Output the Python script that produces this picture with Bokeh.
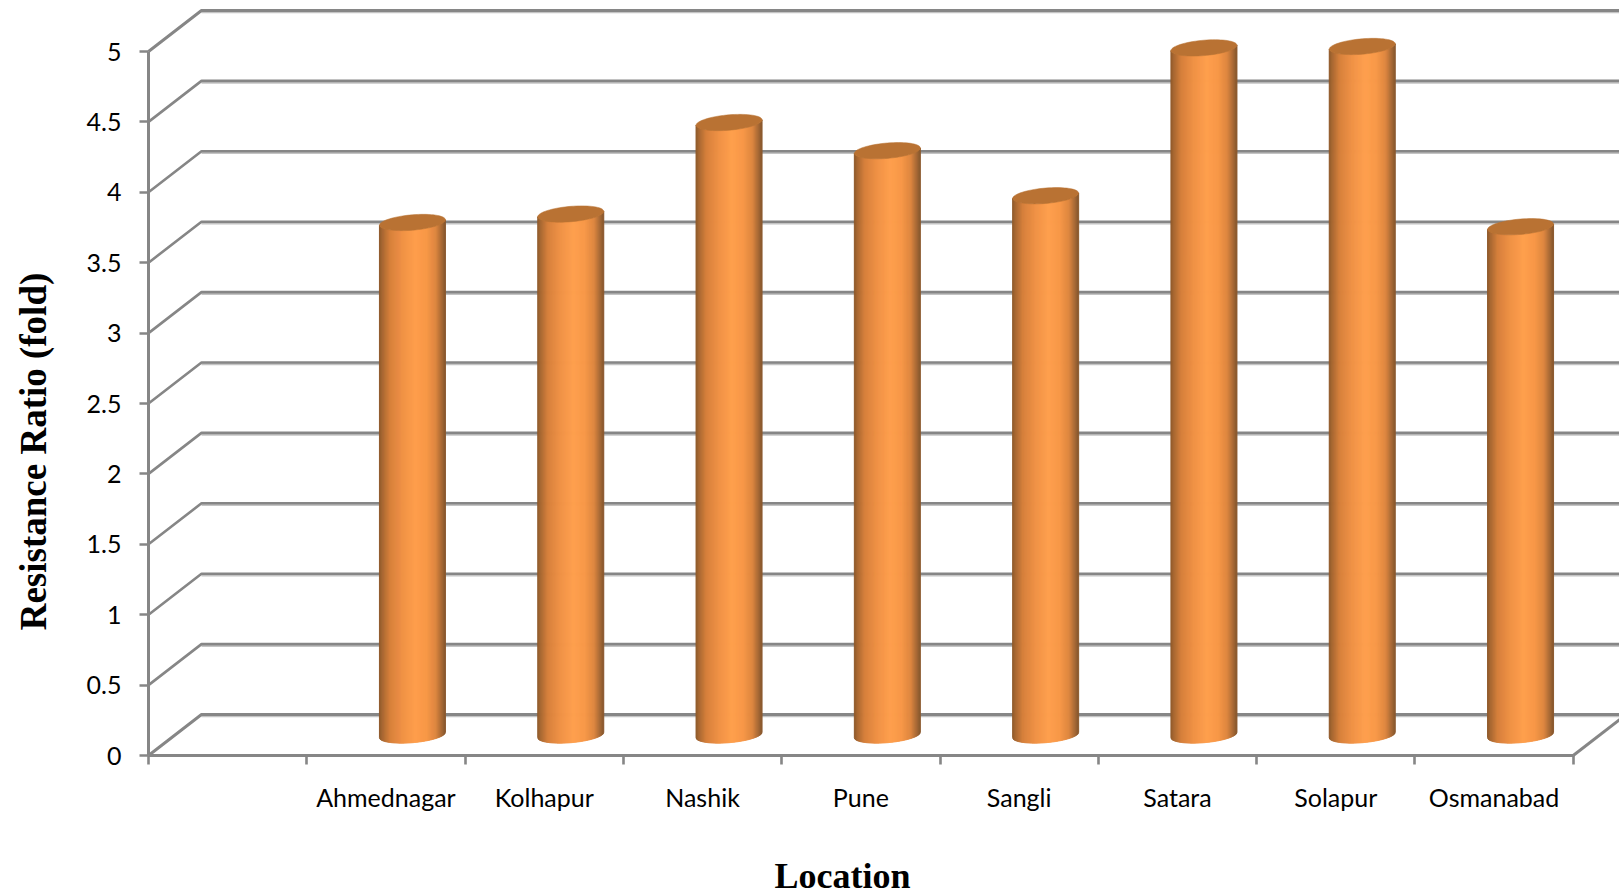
from bokeh.embed import file_html
from bokeh.models import FixedTicker, Label, LinearAxis, Range1d
from bokeh.plotting import figure
from bokeh.resources import INLINE
import numpy as np

# Resistance ratio per location
locations = ["Ahmednagar", "Kolhapur", "Nashik", "Pune", "Sangli", "Satara", "Solapur", "Osmanabad"]
resistance = [3.64, 3.70, 4.35, 4.15, 3.83, 4.88, 4.89, 3.61]
y_ticks = [0, 0.5, 1, 1.5, 2, 2.5, 3, 3.5, 4, 4.5, 5]
y_tick_labels = ["0", "0.5", "1", "1.5", "2", "2.5", "3", "3.5", "4", "4.5", "5"]

W, H = 1619, 893
LEFT, BOTTOM = 148, 138          # position of the data origin, from the canvas edges
PX_X, PX_Y = 158.3, 140.8        # pixels per category slot / per unit of ratio
DEPTH_X = 53 / PX_X              # oblique depth of the 3-D box
DEPTH_Y = 41 / PX_Y
N_SLOTS = 9
GRID_DARK, GRID_SOFT = "#868686", "#c4c4c4"
SANS, SERIF = "Lato", "Liberation Serif"

# The frame fills the canvas; both axes are pinned to the data origin inside it
p = figure(width=W, height=H, output_backend="svg", toolbar_location=None,
           x_range=Range1d(-LEFT / PX_X, (W - LEFT) / PX_X),
           y_range=Range1d(-BOTTOM / PX_Y, (H - BOTTOM) / PX_Y),
           x_axis_type=None, y_axis_type=None,
           min_border=0, min_border_left=0, min_border_bottom=0, min_border_top=0, min_border_right=0,
           outline_line_color=None, background_fill_color="white", border_fill_color="white")
p.xgrid.visible = False
p.ygrid.visible = False

# Wall and floor lines of the box
for v in y_ticks:
    xs = [0, DEPTH_X, (W - LEFT) / PX_X + 1]
    ys = [v, v + DEPTH_Y, v + DEPTH_Y]
    p.line(xs[1:], [y - 1.6 / PX_Y for y in ys[1:]], line_color=GRID_SOFT, line_width=2.4)
    p.line(xs, ys, line_color=GRID_DARK, line_width=3 if v in (0, 5) else 2.6)
p.line([N_SLOTS, N_SLOTS + DEPTH_X], [0, DEPTH_Y], line_color=GRID_DARK, line_width=3)

# Cylinders: vertical strips shaded across the width, with a tilted elliptical cap
HALF_W = 33 / PX_X
TILT = 2.7 / PX_Y
CAP_B = 7.7 / PX_Y
N_STRIPS = 66
stops_u = [0.0, 0.05, 0.16, 0.35, 0.55, 0.72, 0.86, 0.95, 1.0]
stops_rgb = np.array([[140, 88, 42], [168, 104, 50], [214, 128, 60], [240, 146, 70], [255, 160, 78],
                      [248, 152, 72], [222, 135, 64], [168, 106, 54], [136, 88, 46]], dtype=float)

strip_xs, strip_ys, strip_cols, cap_xs, cap_ys = [], [], [], [], []
for i, value in enumerate(resistance):
    cx = i + 1.5 + DEPTH_X / 2
    base = DEPTH_Y / 2
    top = value + DEPTH_Y / 2
    edges = np.linspace(-1, 1, N_STRIPS + 1)
    for a, b in zip(edges[:-1], edges[1:]):
        us = np.linspace(a, b, 3)
        upper = top + TILT * us - CAP_B * np.sqrt(np.clip(1 - us ** 2, 0, 1))
        lower = base + TILT * us[::-1] - CAP_B * np.sqrt(np.clip(1 - us[::-1] ** 2, 0, 1))
        strip_xs.append(list(cx + HALF_W * us) + list(cx + HALF_W * us[::-1]))
        strip_ys.append(list(upper) + list(lower))
        mid = (a + b) / 4 + 0.5
        rgb = [int(np.interp(mid, stops_u, stops_rgb[:, k])) for k in range(3)]
        strip_cols.append("#%02x%02x%02x" % tuple(rgb))
    t = np.linspace(0, 2 * np.pi, 73)
    cap_xs.append(list(cx + HALF_W * np.cos(t)))
    cap_ys.append(list(top + TILT * np.cos(t) + CAP_B * np.sin(t)))

p.patches(strip_xs, strip_ys, fill_color=strip_cols, line_color=strip_cols, line_width=1)
p.patches(cap_xs, cap_ys, fill_color="#b97233", line_color="#b97233", line_width=0.5)

# Value axis
y_axis = LinearAxis(ticker=FixedTicker(ticks=y_ticks), bounds=(0, 5), fixed_location=0,
                    major_label_overrides=dict(zip(y_ticks, y_tick_labels)),
                    major_label_text_font=SANS, major_label_text_font_size="25px",
                    major_label_text_color="#000000", major_label_standoff=18,
                    axis_line_color=GRID_DARK, axis_line_width=3,
                    major_tick_line_color=GRID_DARK, major_tick_line_width=2.6,
                    major_tick_out=9, major_tick_in=0, minor_tick_line_color=None)
p.add_layout(y_axis, "left")

# Category axis: slot boundaries carry the ticks, slot centres carry the names
centres = [i + 1.5 for i in range(len(locations))]
x_axis = LinearAxis(ticker=FixedTicker(ticks=centres, minor_ticks=list(range(N_SLOTS + 1))),
                    bounds=(0, N_SLOTS), fixed_location=0,
                    major_label_overrides=dict(zip(centres, locations)),
                    major_label_text_font=SANS, major_label_text_font_size="25px",
                    major_label_text_color="#000000", major_label_standoff=17,
                    axis_line_color=GRID_DARK, axis_line_width=3,
                    major_tick_line_color=None, major_tick_out=0, major_tick_in=0,
                    minor_tick_line_color=GRID_DARK, minor_tick_line_width=2.6,
                    minor_tick_out=9, minor_tick_in=0)
p.add_layout(x_axis, "below")

# Axis titles
p.add_layout(Label(x=(842 - LEFT) / PX_X, y=-(875 - (H - BOTTOM)) / PX_Y, text="Location",
                   text_font=SERIF, text_font_style="bold", text_font_size="36px",
                   text_align="center", text_baseline="middle", text_color="#000000"))
p.add_layout(Label(x=(33 - LEFT) / PX_X, y=(H - BOTTOM - 451) / PX_Y, angle=np.pi / 2,
                   text="Resistance Ratio (fold)",
                   text_font=SERIF, text_font_style="bold", text_font_size="37px",
                   text_align="center", text_baseline="middle", text_color="#000000"))

open("out.html", "w").write(file_html(p, INLINE))
